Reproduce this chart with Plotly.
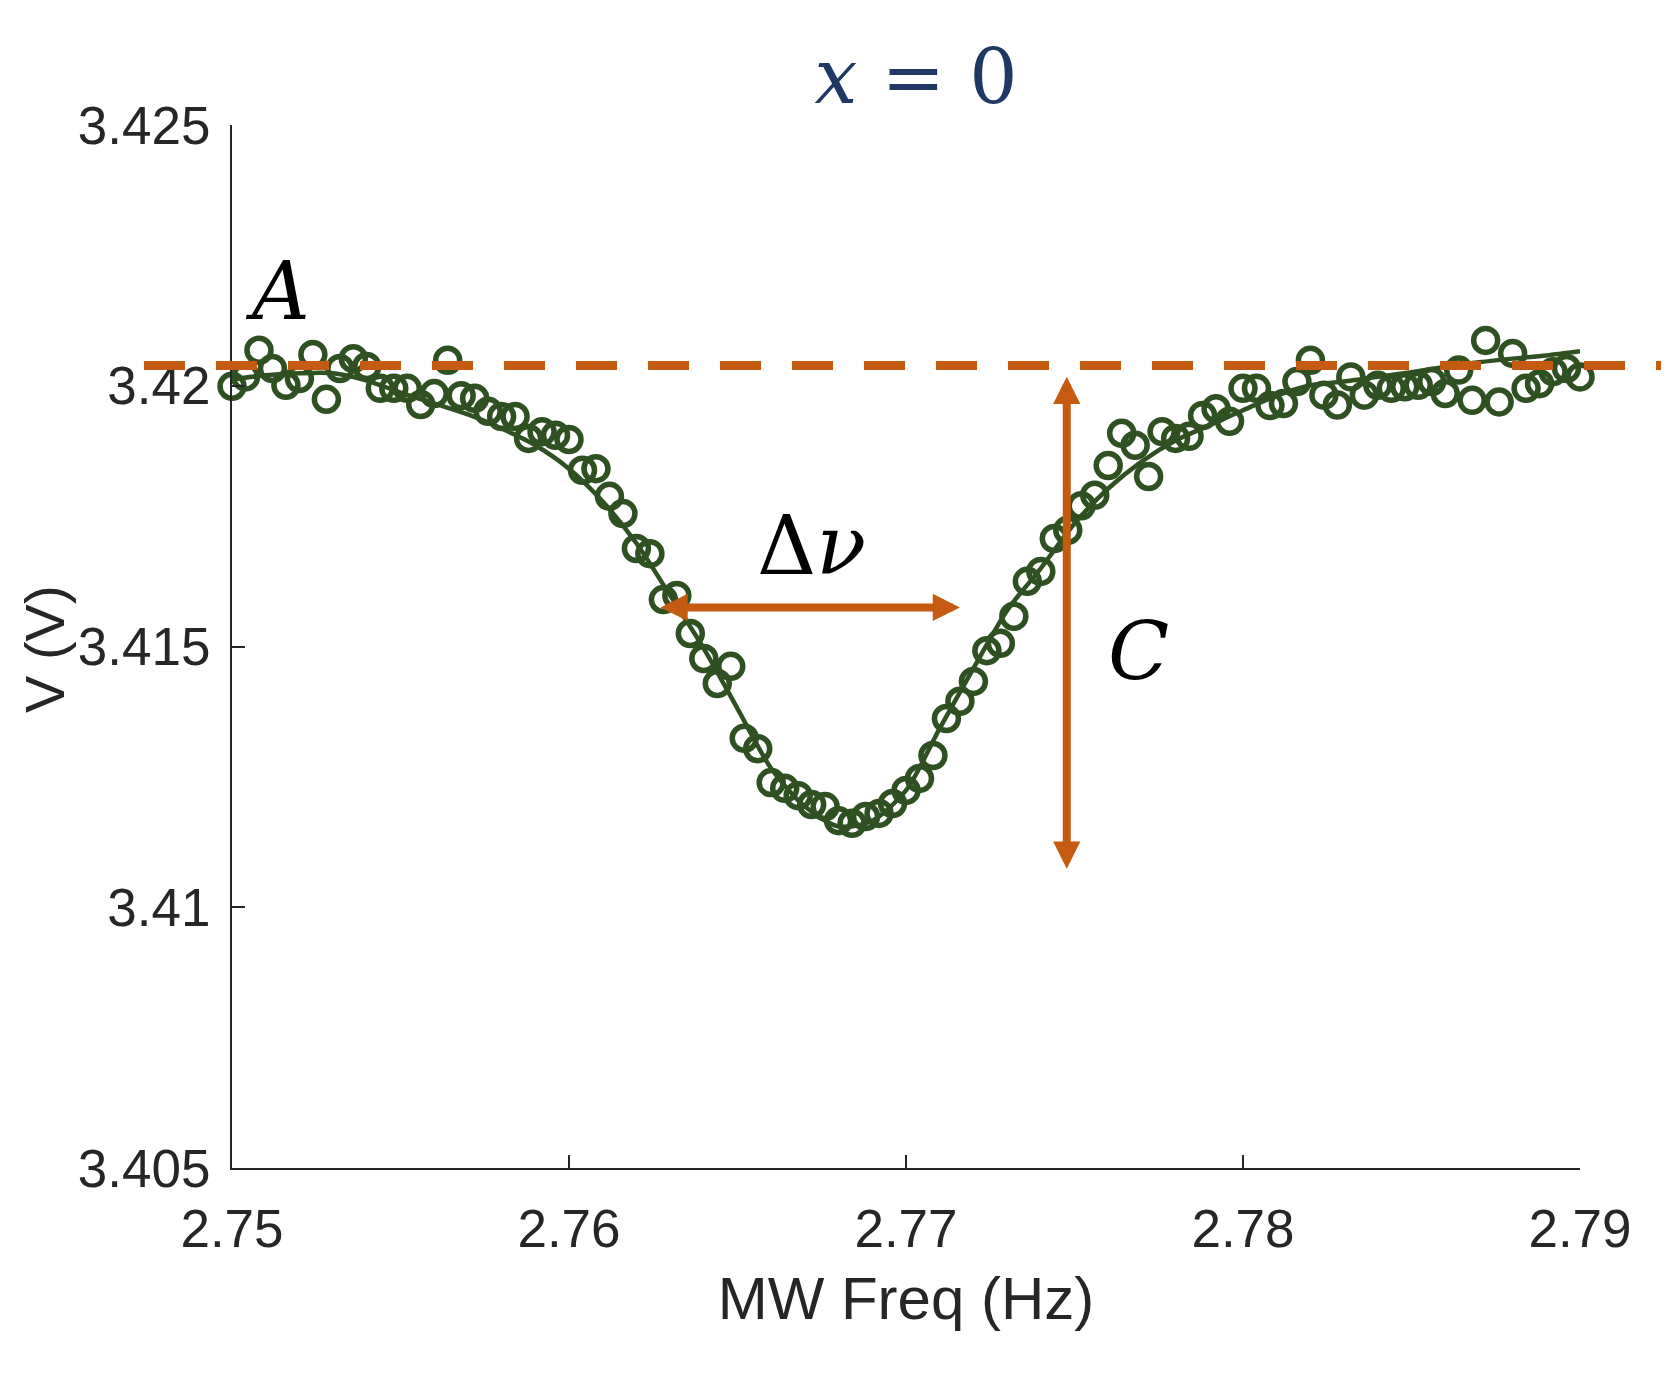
import numpy as np
import plotly.graph_objects as go

# ---------------- data ----------------
freq_start = 2.75
freq_step = 0.0004
n_points = 101
freq = [round(freq_start + freq_step * i, 5) for i in range(n_points)]

voltage = [
    3.41999, 3.42017, 3.42068, 3.42033, 3.42001, 3.42014, 3.42060, 3.41974, 3.42033, 3.42052,
    3.42037, 3.41995, 3.41995, 3.41995, 3.41964, 3.41985, 3.42049, 3.41981, 3.41976, 3.41951,
    3.41941, 3.41941, 3.41899, 3.41912, 3.41905, 3.41897, 3.41838, 3.41841, 3.41788, 3.41755,
    3.41688, 3.41678, 3.41590, 3.41598, 3.41525, 3.41477, 3.41429, 3.41462, 3.41324, 3.41304,
    3.41239, 3.41228, 3.41214, 3.41197, 3.41193, 3.41166, 3.41161, 3.41174, 3.41180, 3.41199,
    3.41224, 3.41247, 3.41291, 3.41362, 3.41395, 3.41433, 3.41492, 3.41506, 3.41558, 3.41625,
    3.41644, 3.41707, 3.41723, 3.41770, 3.41790, 3.41847, 3.41909, 3.41886, 3.41826, 3.41912,
    3.41899, 3.41903, 3.41943, 3.41956, 3.41932, 3.41995, 3.41995, 3.41962, 3.41966, 3.42008,
    3.42049, 3.41982, 3.41963, 3.42017, 3.41982, 3.42001, 3.41995, 3.41998, 3.42001, 3.42008,
    3.41985, 3.42030, 3.41972, 3.42087, 3.41969, 3.42062, 3.41995, 3.42004, 3.42027, 3.42033,
    3.42017,
]

fit_freq = [round(2.75 + 0.001 * k, 3) for k in range(41)]
fit_voltage = [
    3.42012, 3.42020, 3.42024, 3.42024, 3.42010, 3.41987, 3.41966, 3.41945, 3.41918, 3.41886,
    3.41841, 3.41778, 3.41698, 3.41598, 3.41496, 3.41381, 3.41266, 3.41193, 3.41155, 3.41166,
    3.41224, 3.41343, 3.41458, 3.41569, 3.41650, 3.41736, 3.41803, 3.41855, 3.41895, 3.41924,
    3.41953, 3.41981, 3.42001, 3.42008, 3.42017, 3.42026, 3.42036, 3.42045, 3.42052, 3.42058,
    3.42066,
]

x_ticks = [2.75, 2.76, 2.77, 2.78, 2.79]
x_tick_labels = ["2.75", "2.76", "2.77", "2.78", "2.79"]
y_ticks = [3.405, 3.41, 3.415, 3.42, 3.425]
y_tick_labels = ["3.405", "3.41", "3.415", "3.42", "3.425"]

# annotation values (data units)
level_A = 3.42039
width_arrow_x = [2.76267, 2.77160]
width_arrow_y = 3.41575
depth_arrow_x = 2.77477
depth_arrow_y = [3.42020, 3.41074]
label_A_pos = (2.75135, 3.42180)
label_dnu_pos = (2.76721, 3.41693)
label_C_pos = (2.77690, 3.41490)

# ---------------- style ----------------
GREEN = "#2F5122"
ORANGE = "#C55A11"
AXIS = "#262626"
TITLE_BLUE = "#1F3864"
SANS = "Liberation Sans, Arial, sans-serif"
SERIF = "DejaVu Serif, serif"

fig = go.Figure()

fig.add_trace(go.Scatter(
    x=fit_freq, y=fit_voltage, mode="lines",
    line=dict(color=GREEN, width=4.5, shape="spline", smoothing=0.8),
    showlegend=False, hoverinfo="skip",
))
fig.add_trace(go.Scatter(
    x=freq, y=voltage, mode="markers",
    marker=dict(symbol="circle-open", size=24, color=GREEN, line=dict(width=5.5, color=GREEN)),
    showlegend=False, cliponaxis=False,
))

# dashed baseline A (extends beyond axes, like the overlay)
fig.add_shape(
    type="line", xref="paper", yref="y",
    x0=-0.0653, x1=1.08, y0=level_A, y1=level_A,
    line=dict(color=ORANGE, width=9, dash="41px,31px"),
    layer="above",
)

# double-headed arrows
fig.add_annotation(
    x=width_arrow_x[1], y=width_arrow_y, ax=width_arrow_x[0], ay=width_arrow_y,
    xref="x", yref="y", axref="x", ayref="y", text="", showarrow=True,
    arrowhead=2, startarrowhead=2, arrowside="end+start",
    arrowwidth=8, arrowsize=0.68, startarrowsize=0.68, arrowcolor=ORANGE,
)
fig.add_annotation(
    x=depth_arrow_x, y=depth_arrow_y[1], ax=depth_arrow_x, ay=depth_arrow_y[0],
    xref="x", yref="y", axref="x", ayref="y", text="", showarrow=True,
    arrowhead=2, startarrowhead=2, arrowside="end+start",
    arrowwidth=8, arrowsize=0.68, startarrowsize=0.68, arrowcolor=ORANGE,
)

# labels
fig.add_annotation(x=label_A_pos[0], y=label_A_pos[1], text="<i>A</i>", showarrow=False,
                   font=dict(family=SERIF, size=80, color="black"))
fig.add_annotation(x=label_dnu_pos[0], y=label_dnu_pos[1], text="Δ<i>ν</i>", showarrow=False,
                   font=dict(family=SERIF, size=82, color="black"))
fig.add_annotation(x=label_C_pos[0], y=label_C_pos[1], text="<i>C</i>", showarrow=False,
                   font=dict(family=SERIF, size=80, color="black"))

# y-axis title (placed as rotated text left of the tick labels)
fig.add_annotation(x=-0.1395, y=0.4976, xref="paper", yref="paper", text="V (V)",
                   textangle=-90, showarrow=False, xanchor="center", yanchor="middle",
                   font=dict(family=SANS, size=56, color=AXIS))

fig.update_layout(
    width=1669, height=1383,
    margin=dict(l=224, r=97, t=117, b=223, autoexpand=False),
    paper_bgcolor="white", plot_bgcolor="white",
    title=dict(text="<i>x</i> = 0", x=0.5075, xref="paper", y=1 - 68 / 1383, yref="container",
               xanchor="center", yanchor="middle",
               font=dict(family=SERIF, size=76, color=TITLE_BLUE)),
    font=dict(family=SANS, color=AXIS),
)
fig.update_xaxes(
    range=[2.75, 2.79], tickvals=x_ticks, ticktext=x_tick_labels,
    showline=True, linecolor=AXIS, linewidth=2, mirror=False,
    ticks="inside", ticklen=13, tickwidth=2, tickcolor=AXIS,
    showgrid=False, zeroline=False, automargin=False,
    tickfont=dict(family=SANS, size=53, color=AXIS), ticklabelstandoff=13,
    title=dict(text="MW Freq (Hz)", font=dict(family=SANS, size=60, color=AXIS), standoff=20),
)
fig.update_yaxes(
    range=[3.405, 3.425], tickvals=y_ticks, ticktext=y_tick_labels,
    showline=True, linecolor=AXIS, linewidth=2, mirror=False,
    ticks="inside", ticklen=13, tickwidth=2, tickcolor=AXIS,
    showgrid=False, zeroline=False, automargin=False,
    tickfont=dict(family=SANS, size=53, color=AXIS), ticklabelstandoff=9,
)

fig.write_html("out.html")
